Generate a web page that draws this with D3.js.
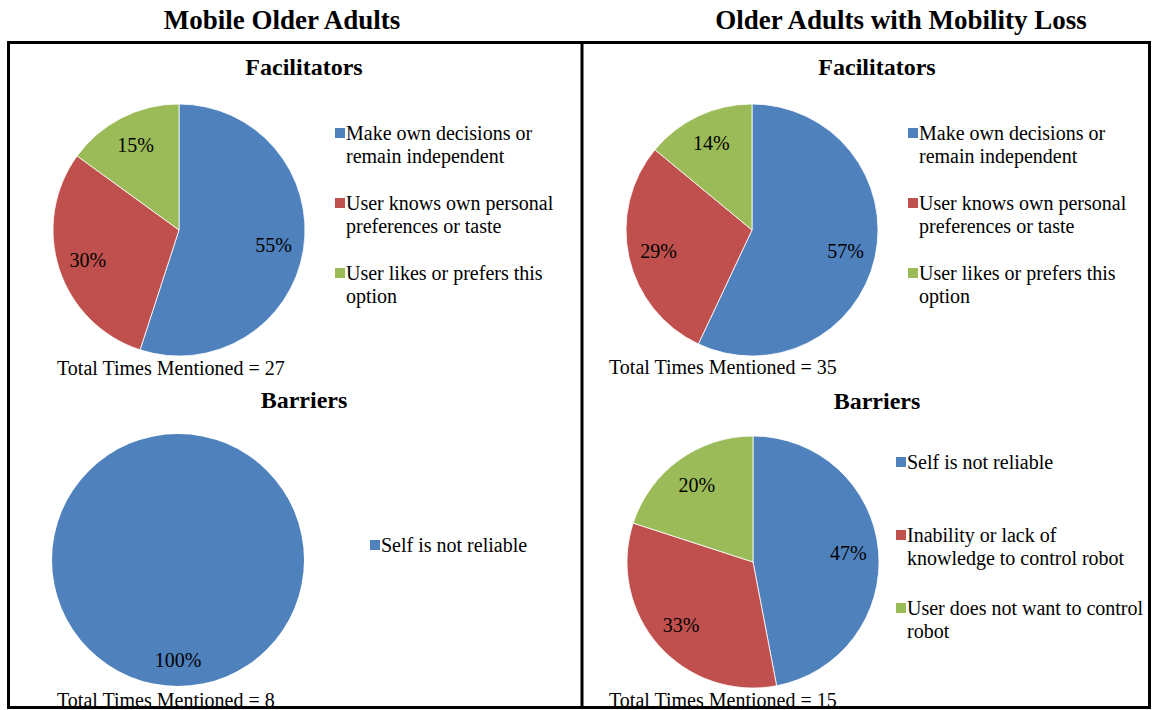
<!DOCTYPE html>
<html>
<head>
<meta charset="utf-8">
<script src="https://cdn.jsdelivr.net/npm/d3@7"></script>
<style>
  html, body { margin: 0; padding: 0; background: #fff; }
  svg { display: block; }
  text { font-family: "Liberation Serif", "Times New Roman", serif; fill: #000; }
</style>
</head>
<body>
<svg id="chart" width="1152" height="710"></svg>
<script>
// ---- Data ----
const panelTitles = ["Mobile Older Adults", "Older Adults with Mobility Loss"];
const sectionTitles = ["Facilitators", "Barriers"];

const facilitatorLabels = [
  ["Make own decisions or", "remain independent"],
  ["User knows own personal", "preferences or taste"],
  ["User likes or prefers this", "option"]
];
const facilitatorsMobile = [55, 30, 15];   // percent
const facilitatorsLoss   = [57, 29, 14];   // percent

const barrierLabelsMobile = [["Self is not reliable"]];
const barriersMobile = [100];              // percent

const barrierLabelsLoss = [
  ["Self is not reliable"],
  ["Inability or lack of", "knowledge to control robot"],
  ["User does not want to control", "robot"]
];
const barriersLoss = [47, 33, 20];         // percent

// Total times mentioned: mobile facilitators, mobile barriers, loss facilitators, loss barriers
const totalsMentioned = [27, 8, 35, 15];

const sliceColors = ["#4F81BD", "#C0504D", "#9BBB59"];

// ---- Layout ----
const svg = d3.select("#chart");

svg.append("text").attr("x", 282).attr("y", 20)
  .attr("text-anchor", "middle").attr("dominant-baseline", "central")
  .attr("font-weight", "bold").attr("font-size", 27).text(panelTitles[0]);
svg.append("text").attr("x", 901).attr("y", 20)
  .attr("text-anchor", "middle").attr("dominant-baseline", "central")
  .attr("font-weight", "bold").attr("font-size", 27).text(panelTitles[1]);

const charts = [
  { values: facilitatorsMobile, labels: facilitatorLabels, title: sectionTitles[0], total: totalsMentioned[0],
    titleX: 304, titleY: 67, cx: 179, cy: 230, r: 126,
    legX: 335, legY: 133, legStep: 70, totX: 57, totY: 368 },
  { values: barriersMobile, labels: barrierLabelsMobile, title: sectionTitles[1], total: totalsMentioned[1],
    titleX: 304, titleY: 400, cx: 178, cy: 560, r: 126,
    legX: 370, legY: 545, legStep: 70, totX: 57, totY: 700 },
  { values: facilitatorsLoss, labels: facilitatorLabels, title: sectionTitles[0], total: totalsMentioned[2],
    titleX: 877, titleY: 67, cx: 752, cy: 230, r: 126,
    legX: 908, legY: 133, legStep: 70, totX: 609, totY: 367 },
  { values: barriersLoss, labels: barrierLabelsLoss, title: sectionTitles[1], total: totalsMentioned[3],
    titleX: 877, titleY: 401, cx: 753, cy: 562, r: 126,
    legX: 896, legY: 462, legStep: 73, totX: 609, totY: 700 }
];

const pie = d3.pie().sort(null).value(d => d);

charts.forEach(c => {
  const g = svg.append("g");
  g.append("text").attr("x", c.titleX).attr("y", c.titleY)
    .attr("text-anchor", "middle").attr("dominant-baseline", "central")
    .attr("font-weight", "bold").attr("font-size", 24).text(c.title);

  const arcs = pie(c.values);
  const arc = d3.arc().innerRadius(0).outerRadius(c.r);
  const labelArc = d3.arc().innerRadius(c.r * 0.76).outerRadius(c.r * 0.76);
  const sum = d3.sum(c.values);

  const pg = g.append("g").attr("transform", `translate(${c.cx},${c.cy})`);
  pg.selectAll("path").data(arcs).join("path")
    .attr("d", arc)
    .attr("fill", (d, i) => sliceColors[i])
    .attr("stroke", arcs.length > 1 ? "#ffffff" : "none")
    .attr("stroke-width", 0.8);

  pg.selectAll("text.pct").data(arcs).join("text")
    .attr("class", "pct")
    .attr("transform", d => {
      const p = arcs.length > 1 ? labelArc.centroid(d) : [0, c.r * 0.79];
      return `translate(${p[0]},${p[1]})`;
    })
    .attr("text-anchor", "middle").attr("dominant-baseline", "central")
    .attr("font-size", 20)
    .text(d => Math.round(d.data / sum * 100) + "%");

  const lg = g.append("g");
  c.labels.forEach((lines, i) => {
    const y0 = c.legY + i * c.legStep;
    lg.append("rect").attr("x", c.legX).attr("y", y0 - 5)
      .attr("width", 10).attr("height", 10).attr("fill", sliceColors[i]);
    lines.forEach((ln, j) => {
      lg.append("text").attr("x", c.legX + 11).attr("y", y0 + j * 23)
        .attr("dominant-baseline", "central").attr("font-size", 20)
        .text(ln);
    });
  });

  g.append("text").attr("x", c.totX).attr("y", c.totY)
    .attr("dominant-baseline", "central").attr("font-size", 20)
    .text("Total Times Mentioned = " + c.total);
});

// Borders
svg.append("rect").attr("x", 8.5).attr("y", 42.5).attr("width", 1141).attr("height", 665)
  .attr("fill", "none").attr("stroke", "#000").attr("stroke-width", 3);
svg.append("line").attr("x1", 582).attr("x2", 582).attr("y1", 42).attr("y2", 708)
  .attr("stroke", "#000").attr("stroke-width", 3);
</script>
</body>
</html>
